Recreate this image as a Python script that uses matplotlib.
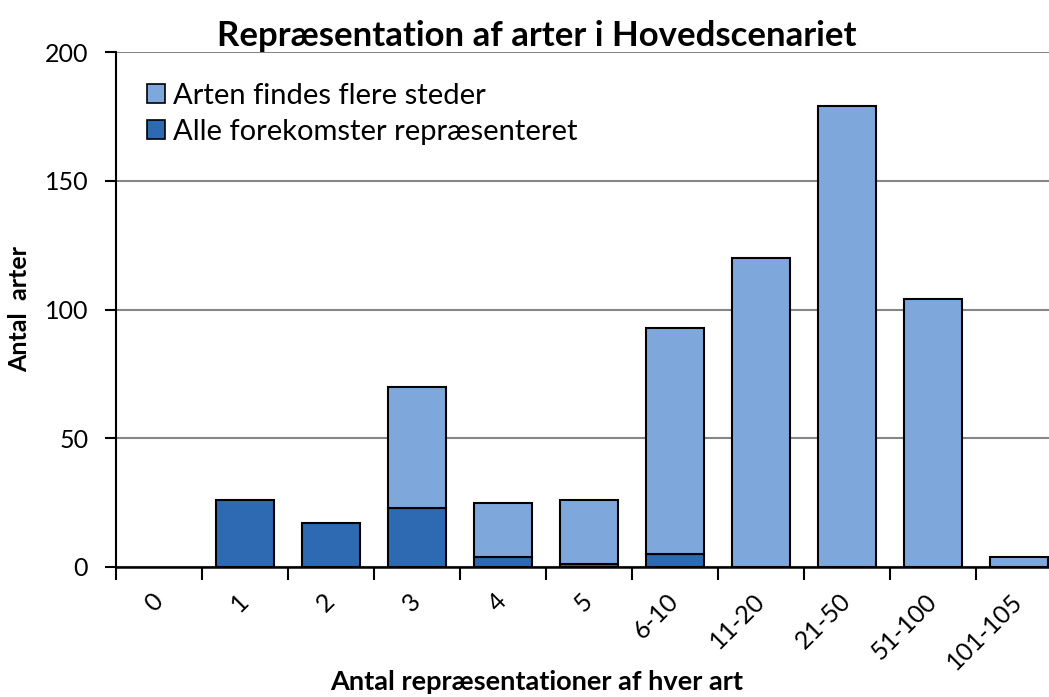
import matplotlib
matplotlib.use("Agg")
import matplotlib.pyplot as plt
from matplotlib.patches import Patch
import numpy as np

categories = ["0", "1", "2", "3", "4", "5", "6-10", "11-20", "21-50", "51-100", "101-105"]
alle = [0, 26, 17, 23, 4, 1, 5, 0, 0, 0, 0]
flere = [0, 0, 0, 47, 21, 25, 88, 120, 179, 104, 4]
yticks = [0, 50, 100, 150, 200]

light = "#7EA8DC"
dark = "#2E6AB2"

plt.rcParams['font.family'] = ['Lato', 'DejaVu Sans']

fig = plt.figure(figsize=(10.49, 6.97), dpi=100)
W, H = 1049, 697
left, right, top, bottom = 116, 1062, 52, 567
ax = fig.add_axes([left / W, 1 - bottom / H, (right - left) / W, (bottom - top) / H])

x = np.arange(len(categories))
w = 0.675
lw_alle = [1.5 if v > 0 else 0 for v in alle]
lw_flere = [1.5 if v > 0 else 0 for v in flere]
ax.bar(x, alle, w, color=dark, edgecolor="black", linewidth=lw_alle, zorder=3)
ax.bar(x, flere, w, bottom=alle, color=light, edgecolor="black", linewidth=lw_flere, zorder=3)

ax.set_xlim(-0.5, len(categories) - 0.5)
ax.set_ylim(0, 200)
ax.set_yticks(yticks)
ax.yaxis.grid(True, color="#868686", linewidth=1.5, zorder=0)
ax.set_axisbelow(True)

for s in ["top", "right"]:
    ax.spines[s].set_visible(False)
ax.spines["left"].set_linewidth(1.5)
ax.spines["bottom"].set_linewidth(1.8)

ax.tick_params(axis="y", direction="out", length=8, width=1.5, labelsize=18, pad=12)
ax.set_xticks(x)
ax.set_xticklabels(categories, rotation=45, ha="right", va="center", rotation_mode="anchor", fontsize=18)
ax.tick_params(axis="x", which="major", length=0, pad=22)
ax.set_xticks(np.arange(-0.5, len(categories) - 0.4, 1), minor=True)
ax.tick_params(axis="x", which="minor", direction="out", length=9, width=1.5)

handles = [Patch(facecolor=light, edgecolor="black", linewidth=1.2, label="Arten findes flere steder"),
           Patch(facecolor=dark, edgecolor="black", linewidth=1.2, label="Alle forekomster repræsenteret")]
leg = ax.legend(handles=handles, loc="upper left", bbox_to_anchor=(0.033, 0.94),
                frameon=False, fontsize=21, handlelength=0.62, handleheight=0.62,
                handletextpad=0.25, labelspacing=0.35, borderaxespad=0, borderpad=0)

ax.set_title("Repræsentation af arter i Hovedscenariet", fontsize=25, fontweight="bold",
             pad=4, x=(537 - left) / (right - left))
ax.set_ylabel("Antal  arter", fontsize=18, fontweight="bold", labelpad=10)
fig.text(537 / W, 1 - 682 / H, "Antal repræsentationer af hver art", fontsize=19.5,
         fontweight="bold", ha="center", va="center")

fig.savefig("out.png", dpi=100)
